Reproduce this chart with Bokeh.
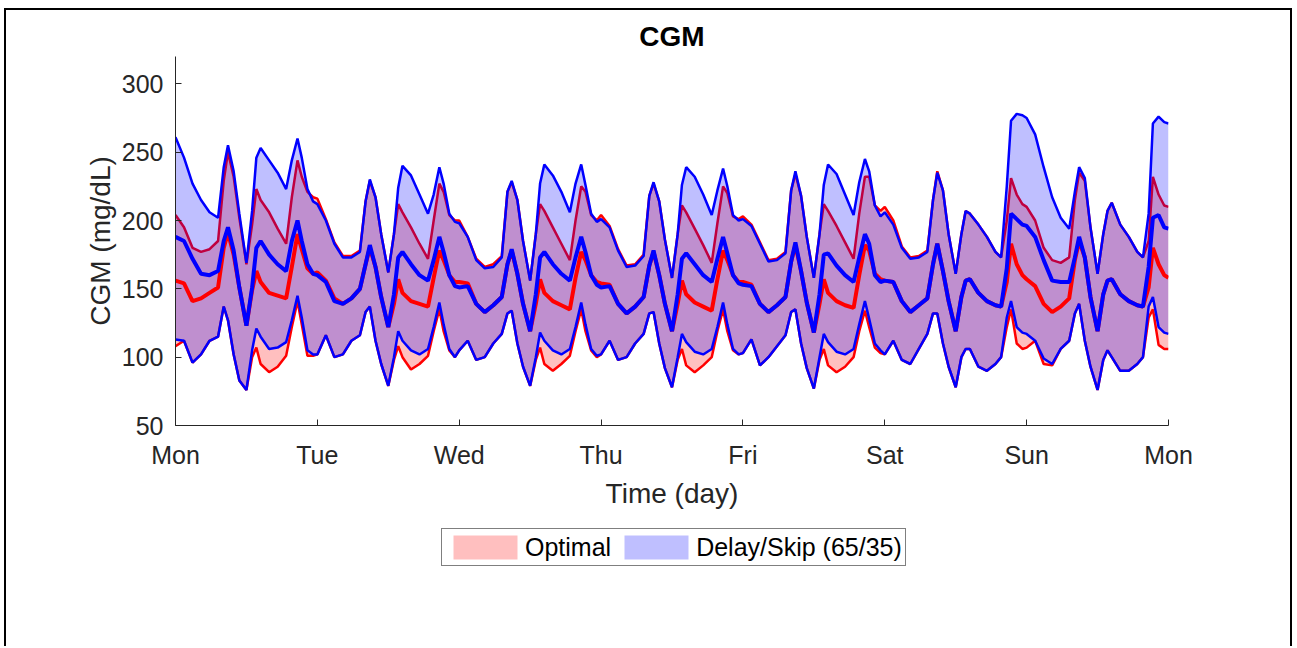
from bokeh.plotting import figure
from bokeh.layouts import column
from bokeh.models import Legend, LegendItem, FixedTicker, Range1d
from bokeh.embed import file_html
from bokeh.resources import INLINE

# ---- data -------------------------------------------------------------
DAY_LABELS = ["Mon", "Tue", "Wed", "Thu", "Fri", "Sat", "Sun", "Mon"]
# sampling offsets within each day (fraction of a day)
OFFSETS = [0, .06, .12, .18, .24, .30, .34, .37, .41, .45, .50,
           .54, .57, .60, .66, .72, .78, .82, .86, .89, .93, .97]
time_day = [d + f for d in range(7) for f in OFFSETS] + [7]

# Optimal (red): upper band, median, lower band (mg/dL)
opt_upper = [
    204, 195, 180, 177, 179, 185, 229, 250, 232, 202, 168, 197, 223, 215, 206, 194, 183, 217, 244, 232, 221, 217,  # Mon
    216, 201, 184, 174, 174, 178, 214, 229, 217, 190, 162, 190, 212, 206, 195, 183, 172, 200, 227, 221, 204, 200,  # Tue
    200, 188, 172, 166, 168, 174, 221, 228, 215, 185, 156, 190, 212, 207, 195, 183, 171, 200, 225, 221, 204, 200,  # Wed
    204, 196, 179, 167, 168, 175, 218, 227, 214, 186, 158, 190, 211, 206, 194, 182, 169, 198, 225, 220, 203, 201,  # Thu
    203, 197, 184, 171, 172, 177, 222, 234, 218, 188, 158, 190, 212, 207, 196, 184, 172, 205, 232, 232, 211, 207,  # Fri
    210, 200, 181, 173, 174, 178, 215, 236, 222, 190, 161, 190, 207, 205, 197, 188, 177, 173, 200, 231, 219, 212,  # Sat
    210, 200, 180, 171, 169, 173, 215, 235, 229, 195, 161, 190, 207, 213, 197, 188, 177, 173, 185, 232, 219, 211,  # Sun
    210]
opt_median = [
    156, 154, 141, 143, 147, 151, 180, 191, 175, 151, 123, 149, 163, 155, 147, 145, 143, 166, 190, 179, 165, 161,
    162, 156, 143, 139, 143, 150, 168, 180, 166, 144, 122, 139, 157, 147, 141, 139, 137, 158, 178, 171, 160, 155,
    155, 154, 139, 133, 138, 144, 168, 178, 161, 139, 119, 139, 157, 147, 141, 138, 135, 158, 177, 171, 160, 155,
    154, 153, 139, 132, 137, 144, 167, 177, 160, 139, 119, 139, 156, 146, 140, 137, 134, 157, 178, 171, 160, 155,
    155, 153, 139, 133, 138, 144, 170, 182, 163, 140, 118, 139, 157, 147, 141, 138, 136, 160, 182, 178, 161, 157,
    156, 155, 141, 133, 138, 143, 168, 183, 163, 141, 119, 144, 156, 157, 147, 141, 138, 137, 155, 183, 168, 160,
    157, 152, 139, 133, 137, 143, 171, 185, 173, 144, 119, 146, 156, 157, 146, 141, 138, 137, 151, 180, 168, 160,
    158]
opt_lower = [
    108, 112, 96, 102, 112, 115, 137, 127, 102, 83, 76, 100, 107, 95, 89, 93, 101, 122, 141, 124, 101, 101,
    102, 116, 100, 102, 112, 116, 133, 137, 112, 95, 79, 98, 108, 100, 91, 95, 101, 119, 135, 119, 105, 100,
    105, 112, 98, 100, 110, 117, 132, 134, 110, 93, 79, 98, 107, 95, 90, 95, 101, 119, 135, 119, 105, 100,
    102, 112, 98, 100, 110, 117, 132, 133, 110, 92, 78, 98, 106, 94, 89, 94, 100, 119, 135, 119, 105, 102,
    103, 113, 94, 100, 108, 116, 133, 135, 110, 92, 77, 98, 106, 94, 89, 93, 100, 119, 134, 122, 107, 103,
    102, 112, 98, 95, 106, 117, 132, 132, 110, 93, 78, 100, 106, 106, 93, 90, 95, 100, 122, 135, 110, 106,
    107, 112, 95, 94, 106, 112, 132, 139, 112, 93, 76, 98, 105, 100, 90, 90, 95, 100, 129, 135, 109, 106,
    106]

# Delay/Skip (65/35) (blue): upper band, median, lower band (mg/dL)
ds_upper = [
    261, 246, 227, 215, 206, 202, 239, 255, 236, 205, 169, 207, 246, 253, 244, 235, 223, 244, 260, 246, 223, 214,
    212, 200, 183, 173, 173, 177, 214, 230, 217, 190, 162, 190, 224, 240, 233, 219, 205, 219, 239, 227, 205, 199,
    198, 188, 171, 165, 166, 173, 221, 229, 215, 185, 156, 190, 227, 241, 233, 221, 206, 227, 241, 226, 205, 199,
    201, 195, 178, 166, 167, 174, 218, 228, 214, 186, 158, 190, 226, 239, 232, 219, 204, 222, 238, 225, 204, 200,
    201, 196, 183, 170, 171, 176, 222, 236, 218, 188, 158, 190, 226, 241, 234, 219, 204, 228, 245, 236, 211, 203,
    206, 197, 180, 172, 173, 177, 215, 235, 222, 190, 161, 190, 207, 205, 197, 188, 177, 173, 225, 273, 278, 277,
    275, 263, 239, 217, 202, 194, 221, 239, 231, 195, 161, 190, 207, 213, 197, 188, 177, 173, 205, 271, 276, 272,
    271]
ds_median = [
    188, 185, 172, 161, 160, 163, 185, 195, 178, 151, 123, 151, 180, 185, 175, 168, 163, 185, 200, 185, 168, 161,
    160, 155, 141, 139, 143, 150, 168, 182, 166, 144, 122, 146, 173, 177, 168, 160, 156, 171, 188, 177, 160, 152,
    151, 152, 139, 133, 138, 144, 168, 179, 161, 139, 119, 146, 173, 177, 168, 161, 156, 173, 188, 177, 160, 153,
    151, 152, 139, 132, 137, 144, 167, 178, 160, 139, 119, 146, 172, 176, 168, 160, 155, 172, 188, 176, 160, 154,
    153, 152, 139, 133, 138, 144, 170, 184, 163, 140, 118, 146, 175, 176, 167, 160, 155, 173, 190, 183, 160, 155,
    156, 155, 141, 133, 138, 143, 168, 183, 163, 141, 119, 144, 156, 157, 147, 141, 138, 137, 165, 205, 201, 197,
    196, 188, 171, 156, 155, 155, 173, 188, 173, 144, 119, 146, 156, 157, 146, 141, 138, 137, 166, 202, 204, 195,
    194]
ds_lower = [
    113, 112, 96, 102, 112, 115, 137, 127, 102, 83, 76, 105, 121, 115, 106, 107, 111, 127, 145, 129, 105, 102,
    102, 116, 100, 102, 112, 116, 133, 137, 112, 95, 79, 100, 119, 112, 105, 102, 106, 122, 140, 124, 106, 100,
    105, 112, 98, 100, 110, 117, 132, 134, 110, 93, 79, 100, 118, 112, 105, 102, 106, 122, 140, 124, 106, 101,
    102, 112, 98, 100, 110, 117, 132, 133, 110, 92, 78, 100, 117, 111, 104, 102, 106, 122, 140, 124, 106, 102,
    103, 113, 94, 100, 108, 116, 133, 135, 110, 92, 77, 100, 117, 111, 104, 102, 106, 124, 141, 128, 110, 105,
    102, 112, 98, 95, 106, 117, 132, 132, 110, 93, 78, 100, 106, 106, 93, 90, 95, 100, 129, 141, 122, 118,
    117, 112, 99, 95, 106, 112, 132, 139, 112, 93, 76, 98, 105, 100, 90, 90, 95, 100, 137, 144, 122, 118,
    117]

Y_TICKS = [50, 100, 150, 200, 250, 300]
LEGEND_LABELS = ["Optimal", "Delay/Skip (65/35)"]

# ---- main figure ------------------------------------------------------
FONT = "Liberation Sans"
TXT = "#262626"
RED, BLUE = "#ff0000", "#0000ff"

p = figure(width=1284, height=505, x_range=Range1d(0, 7), y_range=Range1d(50, 320),
           output_backend="svg", toolbar_location=None, title="CGM",
           min_border_left=169, min_border_right=122, min_border_top=46,
           min_border_bottom=90)
p.outline_line_color = None
p.grid.visible = False

p.title.text_font = FONT
p.title.text_font_size = "28px"
p.title.text_font_style = "bold"
p.title.text_color = "black"
p.title.align = "center"
p.title.standoff = 10

# Optimal
p.varea(x=time_day, y1=opt_lower, y2=opt_upper, fill_color=RED, fill_alpha=0.25)
p.line(time_day, opt_upper, line_color=RED, line_width=2.5)
p.line(time_day, opt_lower, line_color=RED, line_width=2.5)
# Delay/Skip
p.varea(x=time_day, y1=ds_lower, y2=ds_upper, fill_color=BLUE, fill_alpha=0.25)
p.line(time_day, ds_upper, line_color=BLUE, line_width=2.5)
p.line(time_day, ds_lower, line_color=BLUE, line_width=2.5)
# medians
p.line(time_day, opt_median, line_color=RED, line_width=4)
p.line(time_day, ds_median, line_color=BLUE, line_width=4)

p.xaxis.ticker = FixedTicker(ticks=list(range(8)))
p.xaxis.major_label_overrides = {i: lab for i, lab in enumerate(DAY_LABELS)}
p.yaxis.ticker = FixedTicker(ticks=Y_TICKS)
p.xaxis.axis_label = "Time (day)"
p.yaxis.axis_label = "CGM (mg/dL)"
for ax in (p.xaxis[0], p.yaxis[0]):
    ax.axis_line_color = TXT
    ax.major_tick_line_color = TXT
    ax.major_tick_in = 6
    ax.major_tick_out = 0
    ax.minor_tick_line_color = None
    ax.major_label_text_font = FONT
    ax.major_label_text_font_size = "25px"
    ax.major_label_text_color = TXT
    ax.axis_label_text_font = FONT
    ax.axis_label_text_font_size = "28px"
    ax.axis_label_text_font_style = "normal"
    ax.axis_label_text_color = TXT
p.xaxis.major_label_standoff = 15
p.xaxis.axis_label_standoff = 6
p.yaxis.major_label_standoff = 12
p.yaxis.axis_label_standoff = 3

# ---- legend strip (separate figure below the axes) ---------------------
lg = figure(width=1284, height=131, x_range=Range1d(0, 1), y_range=Range1d(0, 1),
            output_backend="svg", toolbar_location=None,
            x_axis_type=None, y_axis_type=None,
            min_border_left=0, min_border_right=0, min_border_top=0, min_border_bottom=0)
lg.outline_line_color = None
lg.grid.visible = False
# legend proxies placed outside the visible range (only their style is used)
r_opt = lg.varea(x=[5, 6], y1=[5, 5], y2=[6, 6], fill_color=RED, fill_alpha=0.25)
r_ds = lg.varea(x=[5, 6], y1=[5, 5], y2=[6, 6], fill_color=BLUE, fill_alpha=0.25)

legend = Legend(items=[LegendItem(label=LEGEND_LABELS[0], renderers=[r_opt]),
                       LegendItem(label=LEGEND_LABELS[1], renderers=[r_ds])],
                orientation="horizontal", location=(266, 80))
legend.label_text_font = FONT
legend.label_text_font_size = "25px"
legend.label_text_color = "black"
legend.border_line_color = "black"
legend.border_line_width = 1
legend.background_fill_color = "white"
legend.background_fill_alpha = 1
legend.glyph_width = 80
legend.glyph_height = 30
legend.label_standoff = 0
legend.spacing = 5
legend.padding = 3
legend.margin = 0
lg.add_layout(legend, "center")

layout = column(p, lg, spacing=0,
                styles={"border-top": "2px solid black", "border-left": "2px solid black",
                        "border-right": "2px solid black",
                        "margin-top": "8px", "margin-left": "4px"})

open("out.html", "w").write(file_html(layout, INLINE))
